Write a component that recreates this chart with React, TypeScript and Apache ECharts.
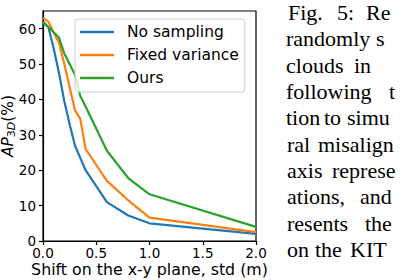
import React, { useEffect, useRef } from "react";
import * as echarts from "echarts";

const shiftStd = [0, 0.05, 0.1, 0.15, 0.2, 0.25, 0.3, 0.35, 0.4, 0.6, 0.8, 1.0, 2.0];
const noSampling = [61.5, 60.5, 54.5, 47.5, 39.5, 33, 27, 23.5, 20, 11, 7.2, 5, 2];
const fixedVariance = [63, 62, 59, 56, 50, 43.5, 37, 34.5, 26, 17, 11.5, 6.6, 2.5];
const ours = [62, 60.5, 59, 57.5, 53, 50, 47, 41, 38, 25.5, 17.8, 13.2, 4];

const seriesNames = ["No sampling", "Fixed variance", "Ours"];
const seriesColors = ["#1f77b4", "#ff7f0e", "#2ca02c"];
const yTicks = [0, 10, 20, 30, 40, 50, 60];
const xTicks = [0, 0.5, 1.0, 1.5, 2.0];

const captionWords = [
  ["Fig.", "5:", "Re"],
  ["randomly", "s"],
  ["clouds", "in"],
  ["following", "t"],
  ["tion", "to", "simu"],
  ["ral", "misalign"],
  ["axis", "represe"],
  ["ations,", "and"],
  ["resents", "the"],
  ["on", "the", "KIT"],
];
const captionWordX = [
  [288, 337, 366],
  [286, 376],
  [286, 354],
  [286, 389],
  [286, 324, 347],
  [287, 318],
  [287, 332],
  [287, 360],
  [287, 365],
  [287, 315, 350],
];

export default function App() {
  const ref = useRef<HTMLDivElement>(null);
  useEffect(() => {
    if (!ref.current) return;
    const chart = echarts.init(ref.current, null, { renderer: "svg" });
    const font = "DejaVu Sans";
    const graphics: any[] = [];
    captionWords.forEach((line, i) => {
      const baseline = 20 + 26.3 * i;
      line.forEach((w, j) => {
        graphics.push({
          type: "text",
          x: captionWordX[i][j],
          y: baseline - 7.4,
          style: {
            text: w,
            font: '22px "Liberation Serif"',
            fill: "#000",
            verticalAlign: "middle",
            align: "left",
          },
        });
      });
    });
    const data = [noSampling, fixedVariance, ours];
    chart.setOption({
      animation: false,
      grid: {
        left: 43,
        top: 11,
        right: 146,
        bottom: 39,
        outerBoundsMode: "none",
        containLabel: false,
        show: true,
        borderColor: "#000",
        borderWidth: 1.2,
        backgroundColor: "transparent",
      },
      legend: {
        orient: "vertical",
        left: 75,
        top: 19,
        icon: "rect",
        itemWidth: 34,
        itemHeight: 2.6,
        itemGap: 7,
        padding: [5, 6, 6, 5],
        backgroundColor: "rgba(255,255,255,0.8)",
        borderColor: "#cccccc",
        borderWidth: 1,
        borderRadius: 3,
        data: seriesNames,
        textStyle: {
          fontFamily: font,
          fontSize: 15.5,
          color: "#000",
          lineHeight: 16,
          padding: [0, 0, 0, 8],
        },
      },
      xAxis: {
        type: "value",
        min: 0,
        max: 2,
        interval: 0.5,
        name: "Shift on the x-y plane, std (m)",
        nameLocation: "middle",
        nameGap: 20.5,
        nameMoveOverlap: false,
        nameTextStyle: { fontFamily: font, fontSize: 15.8, color: "#000", lineHeight: 16 },
        splitLine: { show: false },
        axisLine: { show: true, lineStyle: { color: "#000", width: 1.2 } },
        axisTick: { show: true, inside: false, length: 4, lineStyle: { color: "#000", width: 1.2 }, customValues: xTicks },
        axisLabel: {
          margin: 5,
          fontFamily: font,
          fontSize: 13.5,
          lineHeight: 14,
          color: "#000",
          customValues: xTicks,
          formatter: (v: number) => v.toFixed(1),
        },
      },
      yAxis: {
        type: "value",
        min: 0,
        max: 65,
        name: "{it|AP}{s3|3}{sD|D}{n|(%)}",
        nameLocation: "middle",
        nameGap: 26,
        nameMoveOverlap: false,
        nameRotate: 90,
        nameTextStyle: {
          fontFamily: font,
          fontSize: 15.5,
          color: "#000",
          rich: {
            it: { fontFamily: font, fontSize: 15.5, fontStyle: "italic", color: "#000", lineHeight: 18 },
            s3: { fontFamily: font, fontSize: 11, color: "#000", verticalAlign: "bottom", lineHeight: 12, padding: [6, 0, 0, 0] },
            sD: { fontFamily: font, fontSize: 11, fontStyle: "italic", color: "#000", verticalAlign: "bottom", lineHeight: 12, padding: [6, 0, 0, 0] },
            n: { fontFamily: font, fontSize: 15.5, color: "#000", lineHeight: 18 },
          },
        },
        splitLine: { show: false },
        axisLine: { show: true, lineStyle: { color: "#000", width: 1.2 } },
        axisTick: { show: true, inside: false, length: 4, lineStyle: { color: "#000", width: 1.2 }, customValues: yTicks },
        axisLabel: { margin: 7, fontFamily: font, fontSize: 13.5, lineHeight: 10, color: "#000", customValues: yTicks },
      },
      series: seriesNames.map((name, k) => ({
        name,
        type: "line",
        data: shiftStd.map((x, i) => [x, data[k][i]]),
        symbol: "none",
        lineStyle: { color: seriesColors[k], width: 2.2 },
        itemStyle: { color: seriesColors[k] },
        z: 2,
      })),
      graphic: graphics,
    });
    return () => chart.dispose();
  }, []);
  return (
    <div
      ref={ref}
      style={{ position: "fixed", left: 0, top: 0, width: 402, height: 280, background: "#fff" }}
    />
  );
}
